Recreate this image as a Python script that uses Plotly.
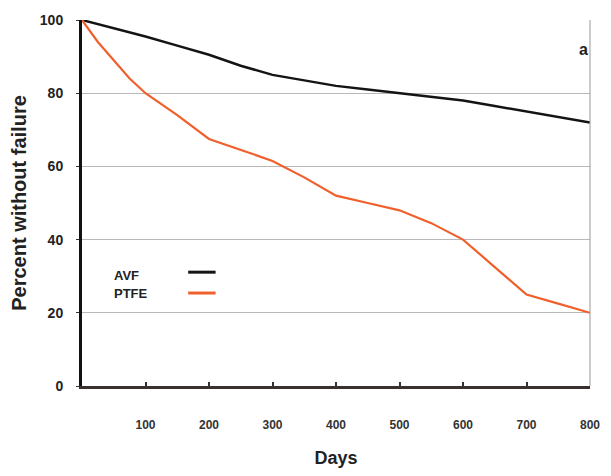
import plotly.graph_objects as go

days_avf = [0, 100, 150, 200, 250, 300, 350, 400, 450, 500, 550, 600, 650, 700, 750, 800]
avf = [100, 95.5, 93, 90.5, 87.5, 85, 83.5, 82, 81, 80, 79, 78, 76.5, 75, 73.5, 72]
days_ptfe = [0, 25, 50, 75, 100, 150, 200, 250, 300, 350, 400, 450, 500, 550, 600, 650, 700, 750, 800]
ptfe = [100, 94, 89, 84, 80, 74, 67.5, 64.5, 61.5, 57, 52, 50, 48, 44.5, 40, 32.5, 25, 22.5, 20]
x_ticks = [100, 200, 300, 400, 500, 600, 700, 800]
y_ticks = [0, 20, 40, 60, 80, 100]

fig = go.Figure()
fig.add_trace(go.Scatter(x=days_avf, y=avf, mode="lines", name="AVF",
                         line=dict(color="#141414", width=2.5)))
fig.add_trace(go.Scatter(x=days_ptfe, y=ptfe, mode="lines", name="PTFE",
                         line=dict(color="#f0602c", width=2.2)))

font_bold = "Liberation Sans, Arial, sans-serif"

fig.update_layout(
    width=611, height=476,
    margin=dict(l=82, r=11, t=20, b=89),
    paper_bgcolor="white", plot_bgcolor="white",
    showlegend=False,
    font=dict(family=font_bold, color="#222"),
    xaxis=dict(range=[0, 800], tickvals=x_ticks, ticktext=[f"<b>{v}</b>" for v in x_ticks],
               tickfont=dict(size=12, color="#333"), ticks="inside", ticklen=4, tickwidth=2,
               tickcolor="#333", showline=True, linecolor="#3a3030", linewidth=3,
               showgrid=False, zeroline=False, ticklabelstandoff=26,
               title=dict(text="<b>Days</b>", font=dict(size=18, color="#222"), standoff=20)),
    yaxis=dict(range=[0, 100], tickvals=y_ticks, ticktext=[f"<b>{v}</b>" for v in y_ticks],
               tickfont=dict(size=14, color="#222"), ticks="outside", ticklen=3, tickwidth=1,
               tickcolor="#333", showline=True, linecolor="#111", linewidth=3,
               showgrid=True, gridcolor="#b8b8b8", gridwidth=1, zeroline=False,
               ticklabelstandoff=10,
               title=dict(text="<b>Percent without failure</b>", font=dict(size=20, color="#222"), standoff=8)),
)

# right border line
fig.add_shape(type="line", xref="paper", yref="paper", x0=1, x1=1, y0=0, y1=1,
              line=dict(color="#999", width=1))

fig.add_annotation(x=790, y=92, xref="x", yref="y", text="<b>a</b>", showarrow=False,
                   font=dict(size=16, color="#222"))

# legend (text then line sample)
fig.add_annotation(x=0.060, y=0.303, xref="paper", yref="paper", text="<b>AVF</b>", showarrow=False,
                   xanchor="left", yanchor="middle", font=dict(size=13, color="#222"))
fig.add_annotation(x=0.060, y=0.252, xref="paper", yref="paper", text="<b>PTFE</b>", showarrow=False,
                   xanchor="left", yanchor="middle", font=dict(size=13, color="#222"))
fig.add_shape(type="line", xref="paper", yref="paper", x0=0.209, x1=0.263, y0=0.311, y1=0.311,
              line=dict(color="#141414", width=3))
fig.add_shape(type="line", xref="paper", yref="paper", x0=0.209, x1=0.263, y0=0.254, y1=0.254,
              line=dict(color="#f0602c", width=3))

fig.write_html("out.html")
